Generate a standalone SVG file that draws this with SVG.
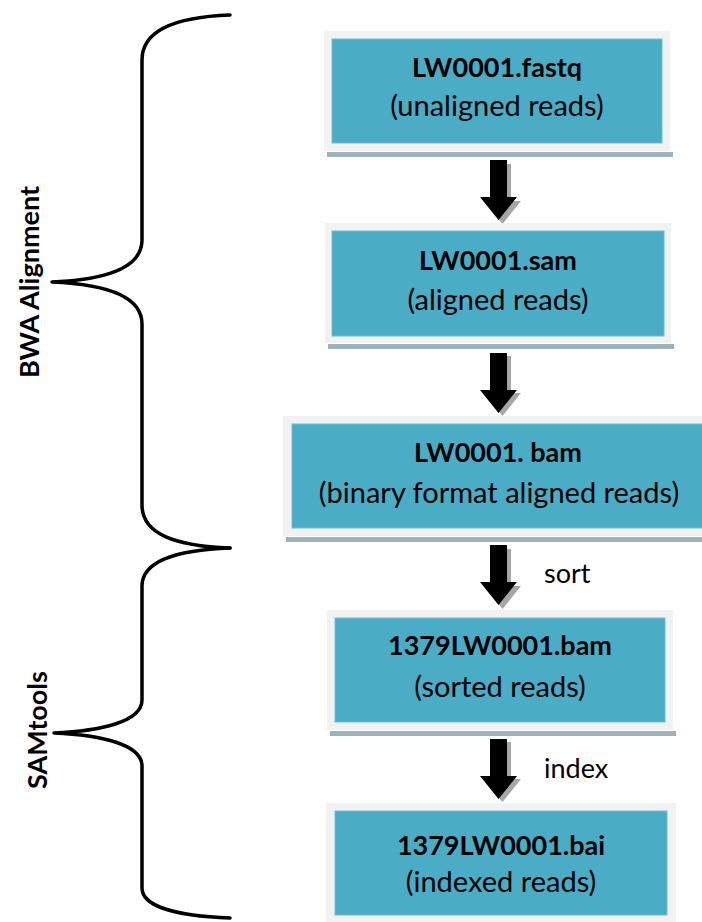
<svg xmlns="http://www.w3.org/2000/svg" width="702" height="922" viewBox="0 0 702 922">
<defs>
<style>
.frame{fill:#f2f2f2}
.box{fill:#4bacc6;stroke:#6cbdd2;stroke-width:1}
.sh{fill:#9db3bc}
.t{font-family:Lato,"Liberation Sans",sans-serif;fill:#000;text-anchor:middle}
.b{font-weight:bold;font-size:27px}
.r{font-size:29px}
.side{font-family:Lato,"Liberation Sans",sans-serif;font-weight:bold;font-size:27px;fill:#000;text-anchor:middle}
.lab{font-family:Lato,"Liberation Sans",sans-serif;font-size:27px;fill:#000}
.brace{fill:none;stroke:#000;stroke-width:3.5;stroke-linecap:round;stroke-linejoin:round}
</style>
<path id="arr" d="M-8.5 0 H8.5 V37 H18.5 L0 60 L-18.5 37 H-8.5 Z"/>
</defs>
<rect width="702" height="922" fill="#fff"/>
<g id="brace-bwa">
<path class="brace" d="M230 15 C175 17 142 30 142 60 V240 C142 270 100 280 52 282 C100 284 142 294 142 324 V505 C142 534 175 546 230 548"/>
<text class="side" transform="translate(39 282) rotate(-90)">BWA Alignment</text>
</g>
<g id="brace-sam">
<path class="brace" d="M230 548 C175 550 142 562 142 586 V700 C142 722 100 731 54 733 C100 735 142 744 142 766 V888 C142 906 175 916 230 918"/>
<text class="side" transform="translate(47 730) rotate(-90)">SAMtools</text>
</g>
<g id="connectors">
<g fill="#a6a6a6">
<use href="#arr" x="502.5" y="164"/>
<use href="#arr" x="502.5" y="356"/>
<use href="#arr" x="502.5" y="549"/>
<use href="#arr" x="502.5" y="742"/>
</g>
<g fill="#000">
<use href="#arr" x="498.5" y="160"/>
<use href="#arr" x="498.5" y="353"/>
<use href="#arr" x="498.5" y="545"/>
<use href="#arr" x="498.5" y="739"/>
</g>
<text class="lab" x="544" y="583">sort</text>
<text class="lab" x="544" y="778">index</text>
</g>
<g id="n1">
<rect class="sh" x="327" y="152" width="346" height="5"/>
<rect class="frame" x="324" y="31" width="346" height="120"/>
<rect class="box" x="332" y="39" width="330" height="104"/>
<text class="t b" x="497" y="77">LW0001.fastq</text>
<text class="t r" x="497" y="116">(unaligned reads)</text>
</g>
<g id="n2">
<rect class="sh" x="328" y="344" width="346" height="5"/>
<rect class="frame" x="325" y="223" width="346" height="120"/>
<rect class="box" x="332" y="231" width="332" height="105"/>
<text class="t b" x="498" y="270">LW0001.sam</text>
<text class="t r" x="498" y="310">(aligned reads)</text>
</g>
<g id="n3">
<rect class="sh" x="286" y="537" width="430" height="5"/>
<rect class="frame" x="283" y="416" width="430" height="120"/>
<rect class="box" x="292" y="424" width="413" height="104"/>
<text class="t b" x="498" y="462">LW0001. bam</text>
<text class="t r" x="499" y="503">(binary format aligned reads)</text>
</g>
<g id="n4">
<rect class="sh" x="330" y="731" width="346" height="5"/>
<rect class="frame" x="327" y="610" width="346" height="120"/>
<rect class="box" x="335" y="618" width="330" height="104"/>
<text class="t b" x="500" y="655">1379LW0001.bam</text>
<text class="t r" x="500" y="697">(sorted reads)</text>
</g>
<g id="n5">
<rect class="frame" x="326" y="803" width="350" height="125"/>
<rect class="box" x="335" y="811" width="332" height="104"/>
<text class="t b" x="501" y="855">1379LW0001.bai</text>
<text class="t r" x="501" y="892">(indexed reads)</text>
</g>
</svg>
